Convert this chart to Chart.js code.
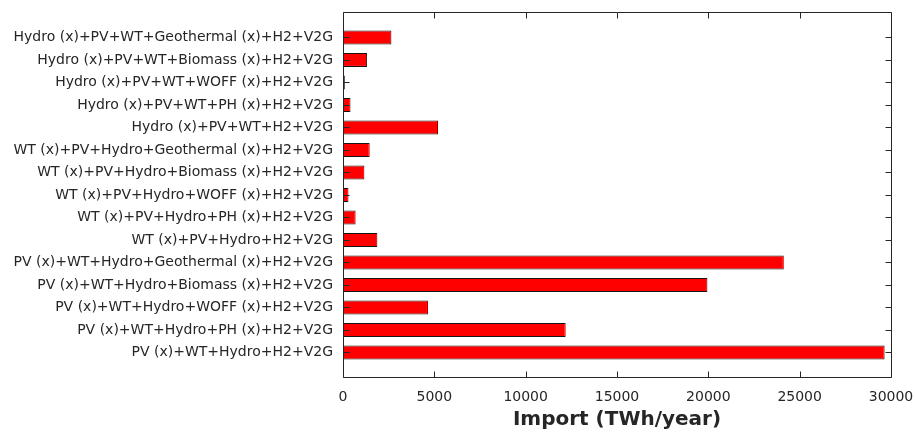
<!DOCTYPE html>
<html>
<head>
<meta charset="utf-8">
<style>
  html, body { margin: 0; padding: 0; background: #ffffff; }
  #wrap { width: 915px; height: 435px; }
</style>
<script src="https://cdn.jsdelivr.net/npm/chart.js@4/dist/chart.umd.min.js"></script>
</head>
<body>
<div id="wrap"><canvas id="chart" width="915" height="435"></canvas></div>
<script>
// Scenario names, top to bottom
const categories = [
  'Hydro (x)+PV+WT+Geothermal (x)+H2+V2G',
  'Hydro (x)+PV+WT+Biomass (x)+H2+V2G',
  'Hydro (x)+PV+WT+WOFF (x)+H2+V2G',
  'Hydro (x)+PV+WT+PH (x)+H2+V2G',
  'Hydro (x)+PV+WT+H2+V2G',
  'WT (x)+PV+Hydro+Geothermal (x)+H2+V2G',
  'WT (x)+PV+Hydro+Biomass (x)+H2+V2G',
  'WT (x)+PV+Hydro+WOFF (x)+H2+V2G',
  'WT (x)+PV+Hydro+PH (x)+H2+V2G',
  'WT (x)+PV+Hydro+H2+V2G',
  'PV (x)+WT+Hydro+Geothermal (x)+H2+V2G',
  'PV (x)+WT+Hydro+Biomass (x)+H2+V2G',
  'PV (x)+WT+Hydro+WOFF (x)+H2+V2G',
  'PV (x)+WT+Hydro+PH (x)+H2+V2G',
  'PV (x)+WT+Hydro+H2+V2G'
];

// Annual import per scenario (TWh/year)
const importValues = [
  2650, 1320, 100, 410, 5200,
  1460, 1170, 300, 690, 1880,
  24130, 19950, 4650, 12190, 29650
];

// Import axis ticks
const xTicks = [0, 5000, 10000, 15000, 20000, 25000, 30000];

const textColor = '#262626';
const lineColor = '#262626';

// Boxed frame with inward tick marks on all four sides
const frameTicks = {
  id: 'frameTicks',
  afterDatasetsDraw(chart) {
    const { ctx, chartArea: a, scales: { x, y } } = chart;
    const al = v => Math.round(v) + 0.5;
    const L = al(a.left), R = al(a.right), T = al(a.top), B = al(a.bottom);
    const len = 6;
    ctx.save();
    ctx.strokeStyle = lineColor;
    ctx.lineWidth = 1;
    ctx.beginPath();
    ctx.moveTo(L, T); ctx.lineTo(R, T); ctx.lineTo(R, B); ctx.lineTo(L, B); ctx.closePath();
    xTicks.forEach(v => {
      const px = al(x.getPixelForValue(v));
      ctx.moveTo(px, B); ctx.lineTo(px, B - len);
      ctx.moveTo(px, T); ctx.lineTo(px, T + len);
    });
    categories.forEach((c, i) => {
      const py = al(y.getPixelForValue(i));
      ctx.moveTo(L, py); ctx.lineTo(L + len, py);
      ctx.moveTo(R, py); ctx.lineTo(R - len, py);
    });
    ctx.stroke();
    ctx.restore();
  }
};

// Empty space above the first and below the last scenario, in rows
const padTop = 1.13;
const padBottom = 1.09;

new Chart(document.getElementById('chart'), {
  type: 'bar',
  data: {
    datasets: [{
      data: importValues.map((v, i) => ({ x: v, y: i })),
      backgroundColor: '#ff0000',
      borderColor: '#141414',
      borderWidth: 1,
      borderSkipped: false,
      barPercentage: 0.62,
      categoryPercentage: 1
    }]
  },
  options: {
    indexAxis: 'y',
    responsive: false,
    animation: false,
    layout: { padding: { top: 12, right: 24, left: 0, bottom: 0 } },
    plugins: {
      legend: { display: false },
      tooltip: { enabled: false }
    },
    scales: {
      x: {
        type: 'linear',
        position: 'bottom',
        min: 0,
        max: 30000,
        offset: false,
        afterBuildTicks(scale) { scale.ticks = xTicks.map(v => ({ value: v })); },
        grid: { display: false },
        border: { display: false },
        ticks: {
          color: textColor,
          font: { family: 'DejaVu Sans', size: 14 },
          padding: 4,
          maxRotation: 0,
          autoSkip: false,
          callback: v => String(v)
        },
        title: {
          display: true,
          text: 'Import (TWh/year)',
          color: textColor,
          font: { family: 'DejaVu Sans', size: 20, weight: 'bold' },
          padding: { top: 2, bottom: 3 }
        },
        afterFit(scale) {
          scale.height = 58;
          scale.paddingLeft = 0;
          scale.paddingRight = 0;
        }
      },
      y: {
        type: 'linear',
        position: 'left',
        reverse: true,
        offset: false,
        min: -padTop,
        max: categories.length - 1 + padBottom,
        afterBuildTicks(scale) { scale.ticks = categories.map((c, i) => ({ value: i })); },
        grid: { display: false, offset: false },
        border: { display: false },
        ticks: {
          color: textColor,
          font: { family: 'DejaVu Sans', size: 14 },
          padding: 2,
          autoSkip: false,
          callback: v => categories[v]
        },
        afterFit(scale) {
          scale.width = 343;
          scale.paddingTop = 0;
          scale.paddingBottom = 0;
        }
      }
    }
  },
  plugins: [frameTicks]
});
</script>
</body>
</html>
